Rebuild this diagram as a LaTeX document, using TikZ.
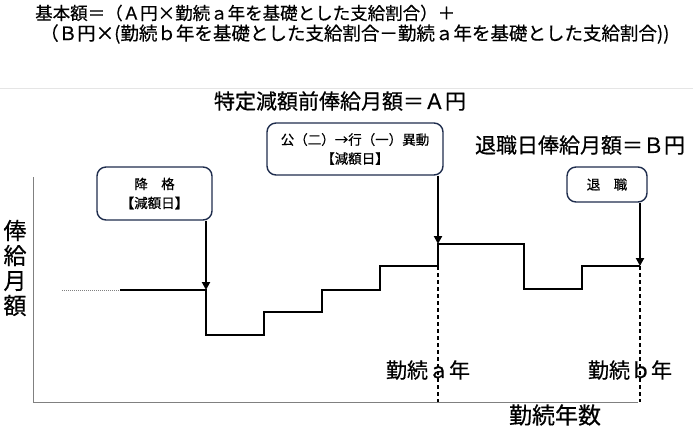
\documentclass[tikz,border=0pt]{standalone}
\usepackage{fontspec}
\setmainfont{Noto Sans CJK JP}[FakeBold=0.5]
\usetikzlibrary{arrows.meta}

\definecolor{boxline}{HTML}{1F2D4D}

\begin{document}
\begin{tikzpicture}[x=1pt,y=-1pt]

\tikzstyle{event}=[draw=boxline, line width=1.4pt, rounded corners=9pt, align=center, inner sep=0pt, font=\fontsize{13.5}{19}\selectfont]
\tikzstyle{formula}=[anchor=west, inner sep=0pt, font=\fontsize{17.5}{18}\selectfont]
\tikzstyle{heading}=[inner sep=0pt, font=\fontsize{21}{22}\selectfont]
\tikzstyle{axis}=[gray, line width=0.9pt]
\tikzstyle{salary}=[black, line width=1.3pt]
\tikzstyle{guide}=[black, line width=1.1pt, dash pattern=on 4pt off 3pt]
\tikzstyle{arrow}=[-{Triangle[length=8pt,width=8pt]}, line width=2.8pt]

\useasboundingbox (0,0) rectangle (700,440);

% formula
\node [formula] (line1) at (35,13) {基本額＝（Ａ円×勤続ａ年を基礎とした支給割合）＋};
\node [formula, font=\fontsize{18.5}{19}\selectfont] (line2) at (40,34) {（Ｂ円×(勤続ｂ年を基礎とした支給割合－勤続ａ年を基礎とした支給割合))};
\draw [gray!20, line width=1pt] (0,88) -- (693,88);

% headings
\node [heading] (before) at (340,101) {特定減額前俸給月額＝Ａ円};
\node [heading] (retire_pay) at (580,145) {退職日俸給月額＝Ｂ円};

% axes
\draw [axis] (33,177) -- (33,402) -- (638,402);
\node [inner sep=0pt, align=center, font=\fontsize{23}{25}\selectfont] (ylabel) at (15,268) {俸\\給\\月\\額};
\node [heading, font=\fontsize{23}{24}\selectfont] (xlabel) at (555,415) {勤続年数};

% salary
\draw [gray, line width=0.8pt, dash pattern=on 1pt off 1pt] (62,290) -- (120,290);
\draw [salary] (120,290) -- (206,290) -- (206,335) -- (264,335) -- (264,312) -- (322,312) -- (322,290)
  -- (380,290) -- (380,266) -- (438,266) -- (438,244) -- (524,244) -- (524,289) -- (582,289) -- (582,266) -- (640,266);

\coordinate (cut) at (206,290);
\coordinate (year_a) at (438,244);
\coordinate (year_b) at (640,266);

\draw [guide] (438,266) -- (438,402);
\draw [guide] (year_b) -- (640,402);

\node [heading] (label_a) at (428,370) {勤続ａ年};
\node [heading] (label_b) at (630,370) {勤続ｂ年};

% events
\node [event, minimum width=115pt, minimum height=53pt] (demote) at (154.5,193.5) {降　格\\【減額日】};
\node [event, minimum width=176pt, minimum height=52pt] (transfer) at (355,149) {公（二）→行（一）異動\\【減額日】};
\node [event, minimum width=80pt, minimum height=35pt] (retire) at (607,184.5) {退　職};

\draw [arrow] (demote.south -| cut) -- (cut);
\draw [arrow] (transfer.south -| year_a) -- (year_a);
\draw [arrow] (retire.south -| year_b) -- (year_b);

\end{tikzpicture}
\end{document}
